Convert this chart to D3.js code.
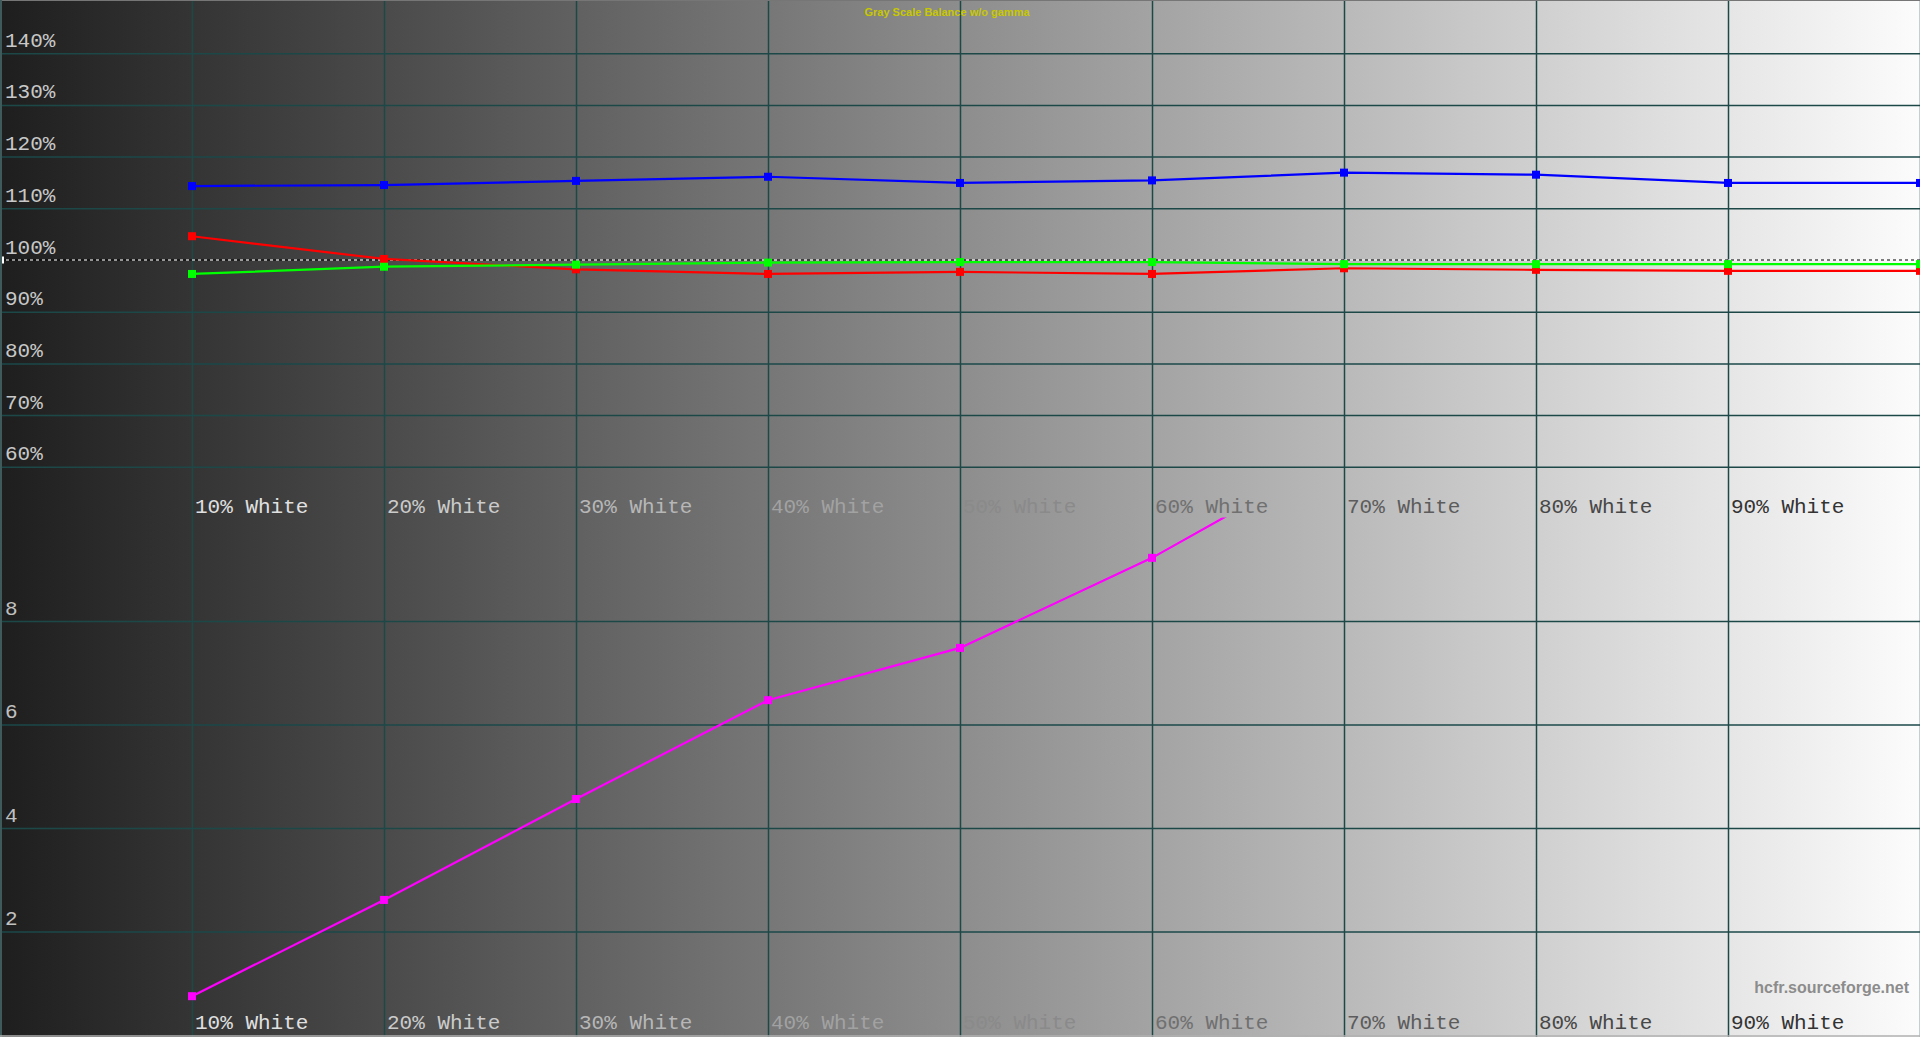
<!DOCTYPE html>
<html>
<head>
<meta charset="utf-8">
<script src="https://cdn.jsdelivr.net/npm/d3@7"></script>
<style>
html, body { margin: 0; padding: 0; background: #1e1e1e; overflow: hidden; }
svg { display: block; }
</style>
</head>
<body>
<div id="canvas"></div>
<script>
// stimulus levels (% white) and their labels
const levels = [10, 20, 30, 40, 50, 60, 70, 80, 90, 100]
const levelLabels = ['10% White', '20% White', '30% White', '40% White', '50% White',
	'60% White', '70% White', '80% White', '90% White']

// RGB balance, % of target
const redPct = [104.6, 100.2, 98.2, 97.3, 97.7, 97.3, 98.4, 98.1, 97.9, 97.9]
const greenPct = [97.3, 98.7, 99.1, 99.5, 99.6, 99.6, 99.2, 99.2, 99.2, 99.2]
const bluePct = [114.3, 114.5, 115.3, 116.1, 114.9, 115.4, 116.9, 116.5, 114.9, 114.9]

// delta E, only 10..70% reach the plot (the rest is above the top)
const deltaE = [0.75, 2.61, 4.56, 6.47, 7.48, 9.22, 11.3]

const pctTicks = [60, 70, 80, 90, 100, 110, 120, 130, 140]
const deTicks = [2, 4, 6, 8]

const gw = 1920
const gh = 1037
const gridColor = '#1c4848'
const monoFont = '"Courier New", "Liberation Mono", monospace'

const svg = d3.select('#canvas')
	.append('svg')
	.attr('width', gw)
	.attr('height', gh);

// background gradient dark -> white
const defs = svg.append('defs');
const grad = defs.append('linearGradient')
	.attr('id', 'bg')
	.attr('x1', 0).attr('x2', 1).attr('y1', 0).attr('y2', 0);
grad.append('stop').attr('offset', 0).attr('stop-color', '#1e1e1e');
grad.append('stop').attr('offset', 1).attr('stop-color', '#fcfcfc');

svg.append('rect')
	.attr('width', gw)
	.attr('height', gh)
	.attr('fill', 'url(#bg)');

// scales
const x = d3.scaleLinear().domain([0, 100]).range([0, gw]);
const yTop = d3.scaleLinear().domain([50, 150]).range([518.5, 1.5]);
const yBot = d3.scaleLinear().domain([0, 10]).range([1035, 517.5]);

defs.append('clipPath').attr('id', 'clipBot')
	.append('rect')
	.attr('x', 0).attr('y', yBot(10))
	.attr('width', gw).attr('height', yBot(0) - yBot(10));

// vertical grid
const xGrid = svg.append('g')
	.call(d3.axisBottom(x).tickValues(levels).tickSize(gh).tickFormat(''));
xGrid.select('.domain').remove();
xGrid.selectAll('line')
	.attr('stroke', gridColor)
	.attr('stroke-width', 1.5);

// upper panel horizontal grid + labels
const yTopAxis = svg.append('g')
	.call(d3.axisRight(yTop)
		.tickValues(pctTicks)
		.tickSize(gw)
		.tickFormat(d => d + '%'));
yTopAxis.select('.domain').remove();
yTopAxis.selectAll('line')
	.attr('stroke', d => d === 100 ? 'none' : gridColor)
	.attr('stroke-width', 1.5);
yTopAxis.selectAll('text')
	.attr('x', 5)
	.attr('y', -7)
	.attr('dy', null)
	.attr('text-anchor', 'start')
	.attr('fill', '#c8c8c8')
	.style('font-family', monoFont)
	.style('font-size', '21px');

// lower panel horizontal grid + labels
const yBotAxis = svg.append('g')
	.call(d3.axisRight(yBot)
		.tickValues(deTicks)
		.tickSize(gw)
		.tickFormat(d => d));
yBotAxis.select('.domain').remove();
yBotAxis.selectAll('line')
	.attr('stroke', gridColor)
	.attr('stroke-width', 1.5);
yBotAxis.selectAll('text')
	.attr('x', 5)
	.attr('y', -7)
	.attr('dy', null)
	.attr('text-anchor', 'start')
	.attr('fill', '#c0c0c0')
	.style('font-family', monoFont)
	.style('font-size', '21px');

// 100% reference: alternating white/black dashes
svg.append('line')
	.attr('x1', 0).attr('x2', gw)
	.attr('y1', yTop(100)).attr('y2', yTop(100))
	.attr('stroke', '#ffffff')
	.attr('stroke-dasharray', '3,3');
svg.append('line')
	.attr('x1', 0).attr('x2', gw)
	.attr('y1', yTop(100)).attr('y2', yTop(100))
	.attr('stroke', '#000000')
	.attr('stroke-dasharray', '3,3')
	.attr('stroke-dashoffset', 3);
svg.append('rect')
	.attr('x', 1).attr('y', yTop(100) - 3.5)
	.attr('width', 3).attr('height', 7)
	.attr('fill', '#ffffff');

// frame
svg.append('line')
	.attr('x1', 0).attr('x2', gw).attr('y1', 0.5).attr('y2', 0.5)
	.attr('stroke', '#767676');
svg.append('line')
	.attr('x1', 1).attr('x2', 1).attr('y1', 0).attr('y2', gh)
	.attr('stroke', '#3f5a5a')
	.attr('stroke-width', 2);
svg.append('line')
	.attr('x1', 0).attr('x2', gw).attr('y1', 1036).attr('y2', 1036)
	.attr('stroke', '#b0b0b0')
	.attr('stroke-width', 1.5);

// level labels, two rows
const labelColor = d3.scaleLinear()
	.domain([10, 40, 50, 60, 90])
	.range(['#e0e0e0', '#a2a2a2', '#8a8a8a', '#707070', '#333333']);

[yBot(10) - 5, yBot(0) - 6].forEach(baseY => {
	svg.append('g').selectAll('text')
		.data(levelLabels)
		.enter()
		.append('text')
			.attr('x', (d, i) => x(levels[i]) + 3)
			.attr('y', baseY)
			.attr('fill', (d, i) => labelColor(levels[i]))
			.style('font-family', monoFont)
			.style('font-size', '21px')
			.text(d => d);
});

// RGB lines
function drawSeries(vals, color, scale, g) {
	const pts = vals.map((v, i) => [levels[i], v]);
	const line = d3.line()
		.x(d => x(d[0]))
		.y(d => scale(d[1]));
	g.append('path')
		.datum(pts)
		.attr('fill', 'none')
		.attr('stroke', color)
		.attr('stroke-width', 2.2)
		.attr('d', line);
	g.selectAll(null)
		.data(pts)
		.enter()
		.append('rect')
			.attr('x', d => x(d[0]) - 4)
			.attr('y', d => scale(d[1]) - 4)
			.attr('width', 8)
			.attr('height', 8)
			.attr('fill', color);
}

const topG = svg.append('g');
drawSeries(redPct, '#ff0000', yTop, topG);
drawSeries(greenPct, '#00ff00', yTop, topG);
drawSeries(bluePct, '#0000ff', yTop, topG);

const botG = svg.append('g').attr('clip-path', 'url(#clipBot)');
drawSeries(deltaE, '#ff00ff', yBot, botG);

// title + watermark
svg.append('text')
	.attr('x', 947)
	.attr('y', 16)
	.attr('text-anchor', 'middle')
	.attr('fill', '#c8c800')
	.style('font-family', 'Arial, "Liberation Sans", sans-serif')
	.style('font-weight', 'bold')
	.style('font-size', '11px')
	.text('Gray Scale Balance w/o gamma');

svg.append('text')
	.attr('x', 1909)
	.attr('y', 993)
	.attr('text-anchor', 'end')
	.attr('fill', '#8c8c8c')
	.style('font-family', 'Arial, "Liberation Sans", sans-serif')
	.style('font-weight', 'bold')
	.style('font-size', '16px')
	.text('hcfr.sourceforge.net');
</script>
</body>
</html>
